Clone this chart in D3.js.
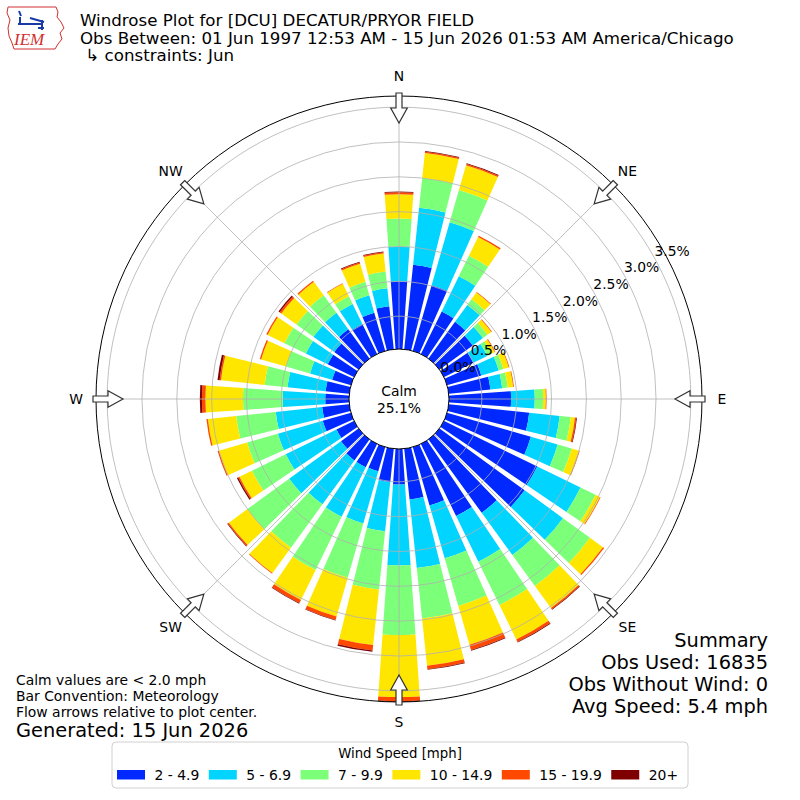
<!DOCTYPE html>
<html>
<head>
<meta charset="utf-8">
<script src="https://cdn.jsdelivr.net/npm/d3@7"></script>
<style>
  body { margin: 0; background: #fff; }
  text { font-family: "DejaVu Sans", sans-serif; fill: #000; }
</style>
</head>
<body>
<svg id="chart" width="800" height="800"></svg>
<script>
// direction bins (deg, meteorological: where the wind comes from)
var directions = [0,10,20,30,40,50,60,70,80,90,100,110,120,130,140,150,160,170,
                  180,190,200,210,220,230,240,250,260,270,280,290,300,310,320,330,340,350];
var speedBins = ["2 - 4.9", "5 - 6.9", "7 - 9.9", "10 - 14.9", "15 - 19.9", "20+"];
var binColors = ["#0028ff", "#00d4ff", "#7cff79", "#ffe600", "#ff4800", "#7f0000"];

// percent of obs per direction, one array per speed bin
var pct_2_4   = [1.00,1.25,1.01,0.71,0.68,0.62,0.50,0.54,0.63,0.92,1.19,1.28,1.52,1.54,1.33,1.18,0.90,0.76,
                 0.54,0.51,0.39,0.40,0.40,0.34,0.31,0.45,0.42,0.37,0.37,0.31,0.45,0.46,0.55,0.51,0.60,0.65];
var pct_5_6   = [0.50,0.82,0.94,0.56,0.30,0.18,0.22,0.26,0.17,0.34,0.44,0.40,0.69,0.68,0.75,0.73,0.79,0.99,
                 1.16,0.71,0.78,0.79,0.78,0.92,0.81,0.67,0.67,0.61,0.55,0.33,0.35,0.37,0.29,0.32,0.26,0.26];
var pct_7_9   = [0.40,0.43,0.48,0.33,0.10,0.08,0.07,0.07,0.08,0.12,0.16,0.21,0.24,0.48,0.55,0.69,0.71,0.73,
                 1.00,0.84,0.81,0.85,0.77,0.74,0.54,0.46,0.57,0.57,0.33,0.36,0.34,0.30,0.31,0.12,0.20,0.24];
var pct_10_14 = [0.35,0.36,0.37,0.30,0.12,0.07,0.05,0.08,0.08,0.04,0.06,0.11,0.07,0.23,0.39,0.55,0.58,0.68,
                 0.89,0.80,0.58,0.48,0.45,0.33,0.20,0.42,0.41,0.54,0.63,0.37,0.27,0.27,0.24,0.20,0.27,0.26];
var pct_15_19 = [0.03,0.02,0.02,0.02,0.01,0.01,0.01,0.01,0.01,0.01,0.02,0.01,0.01,0.02,0.02,0.04,0.08,0.05,
                 0.06,0.08,0.05,0.05,0.01,0.02,0.02,0.02,0.02,0.05,0.02,0.02,0.02,0.03,0.02,0.01,0.02,0.02];
var pct_20p   = [0.01,0.01,0.01,0.00,0.00,0.00,0.00,0.00,0.00,0.00,0.01,0.00,0.00,0.00,0.01,0.01,0.01,0.01,
                 0.01,0.02,0.01,0.01,0.00,0.01,0.02,0.00,0.00,0.03,0.03,0.00,0.00,0.02,0.00,0.00,0.01,0.01];
var series = [pct_2_4, pct_5_6, pct_7_9, pct_10_14, pct_15_19, pct_20p];

var ringTicks = [0.0, 0.5, 1.0, 1.5, 2.0, 2.5, 3.0, 3.5];
var compass = ["N","NE","E","SE","S","SW","W","NW"];
var compassDeg = [0,45,90,135,180,225,270,315];

var titleLines = ["Windrose Plot for [DCU] DECATUR/PRYOR FIELD",
                  "Obs Between: 01 Jun 1997 12:53 AM - 15 Jun 2026 01:53 AM America/Chicago",
                  " \u21b3 constraints: Jun"];
var summaryLines = ["Summary", "Obs Used: 16835", "Obs Without Wind: 0", "Avg Speed: 5.4 mph"];
var noteLines = ["Calm values are < 2.0 mph", "Bar Convention: Meteorology", "Flow arrows relative to plot center."];
var calmPct = "25.1%";

var svg = d3.select('#chart');
var cx = 399, cy = 399, R = 303, r0 = 48, calmR = 50;
var rad = Math.PI / 180;
var small = '13.9px', big = '19.4px';

// stack the bins
var stacked = directions.map(function(d, i){
  var acc = 0;
  return series.map(function(s, j){
    var lo = acc; acc += s[i];
    return {dir: d, bin: j, lo: lo, hi: acc};
  });
});
var totals = stacked.map(function(s){ return s[s.length-1].hi; });

var r = d3.scaleLinear().domain([0, d3.max(totals)]).range([r0, R]);

var g = svg.append('g').attr('transform', 'translate(' + cx + ',' + cy + ')');

var arc = d3.arc()
  .innerRadius(function(d){ return r(d.lo); })
  .outerRadius(function(d){ return r(d.hi); })
  .startAngle(function(d){ return (d.dir - 4) * rad; })
  .endAngle(function(d){ return (d.dir + 4) * rad; });

g.selectAll('g.dir')
  .data(stacked)
  .enter().append('g').attr('class', 'dir')
  .selectAll('path')
  .data(function(d){ return d.filter(function(e){ return e.hi > e.lo; }); })
  .enter().append('path')
    .attr('d', arc)
    .attr('fill', function(d){ return binColors[d.bin]; });

// grid over the bars
g.selectAll('circle.ring')
  .data(ringTicks)
  .enter().append('circle')
    .attr('r', function(d){ return r(d); })
    .attr('fill', 'none')
    .attr('stroke', '#b0b0b0')
    .attr('stroke-width', 0.8);

g.selectAll('line.spoke')
  .data(compassDeg)
  .enter().append('line')
    .attr('x1', 0).attr('y1', 0)
    .attr('x2', function(d){ return R * Math.sin(d * rad); })
    .attr('y2', function(d){ return -R * Math.cos(d * rad); })
    .attr('stroke', '#b0b0b0')
    .attr('stroke-width', 0.8);

g.append('circle')
  .attr('r', R).attr('fill', 'none').attr('stroke', '#000').attr('stroke-width', 1);

// calm circle
g.append('circle')
  .attr('r', calmR).attr('fill', '#fff').attr('stroke', '#000').attr('stroke-width', 1);
g.append('text').attr('x', 0).attr('y', -3).attr('text-anchor', 'middle')
  .style('font-size', small).text('Calm');
g.append('text').attr('x', 0).attr('y', 14).attr('text-anchor', 'middle')
  .style('font-size', small).text(calmPct);

// radial labels
var labAng = 61.5 * rad;
g.selectAll('text.rlab')
  .data(ringTicks)
  .enter().append('text')
    .attr('x', function(d){ return (r(d) + 19) * Math.sin(labAng); })
    .attr('y', function(d){ return -(r(d) + 19) * Math.cos(labAng) + 5; })
    .attr('text-anchor', 'middle')
    .style('font-size', small)
    .text(function(d){ return d.toFixed(1) + '%'; });

// compass labels
g.selectAll('text.cmp')
  .data(compass)
  .enter().append('text')
    .attr('x', function(d, i){ return 323 * Math.sin(compassDeg[i] * rad); })
    .attr('y', function(d, i){ return -323 * Math.cos(compassDeg[i] * rad) + 5; })
    .attr('text-anchor', 'middle')
    .style('font-size', small)
    .text(function(d){ return d; });

// flow arrows pointing at the center
var arrowShape = [[306,-3],[291,-3],[291,-8.3],[276,0],[291,8.3],[291,3],[306,3]];
g.selectAll('path.arrow')
  .data(compassDeg)
  .enter().append('path')
    .attr('d', function(a){
      var s = Math.sin(a * rad), c = Math.cos(a * rad);
      return 'M' + arrowShape.map(function(p){
        return [(p[0] * s + p[1] * c).toFixed(2), (-p[0] * c + p[1] * s).toFixed(2)].join(',');
      }).join('L') + 'Z';
    })
    .attr('fill', '#fff')
    .attr('stroke', '#333')
    .attr('stroke-width', 1.2);

// titles
svg.selectAll('text.title')
  .data(titleLines)
  .enter().append('text')
    .attr('x', 80)
    .attr('y', function(d, i){ return 26 + i * 17.5; })
    .attr('xml:space', 'preserve')
    .style('font-size', '16.67px')
    .text(function(d){ return d; });

// summary block
svg.selectAll('text.summary')
  .data(summaryLines)
  .enter().append('text')
    .attr('x', 768)
    .attr('y', function(d, i){ return 647 + i * 22; })
    .attr('text-anchor', 'end')
    .style('font-size', big)
    .text(function(d){ return d; });

svg.selectAll('text.note')
  .data(noteLines)
  .enter().append('text')
    .attr('x', 16)
    .attr('y', function(d, i){ return 685 + i * 16; })
    .style('font-size', small)
    .text(function(d){ return d; });
svg.append('text').attr('x', 16).attr('y', 737)
  .style('font-size', big).text('Generated: 15 Jun 2026');

// legend
var lg = svg.append('g');
lg.append('rect').attr('x', 112).attr('y', 742).attr('width', 576).attr('height', 46)
  .attr('rx', 4).attr('fill', '#fff').attr('stroke', '#d0d0d0');
lg.append('text').attr('x', 400).attr('y', 758).attr('text-anchor', 'middle')
  .style('font-size', '13.3px').text('Wind Speed [mph]');
var lx = 117;
speedBins.forEach(function(lbl, i){
  lg.append('rect').attr('x', lx).attr('y', 770).attr('width', 28).attr('height', 9.5)
    .attr('fill', binColors[i]);
  var t = lg.append('text').attr('x', lx + 37.5).attr('y', 779.5)
    .style('font-size', small).text(lbl);
  lx = lx + 37.5 + t.node().getComputedTextLength() + 9.5;
});

// IEM logo (rough)
var logo = svg.append('g');
logo.append('path')
  .attr('d', 'M8,7 L56,7 L58,12 L57,17 L61,22 L64,28 L60,33 L62,39 L58,44 L55,49 L14,49 L12,43 L9,36 L8,28 L10,20 L7,13 Z')
  .attr('fill', '#fff').attr('stroke', '#d03030').attr('stroke-width', 1);
logo.append('path')
  .attr('d', 'M19,11 L21,16 M20,17 L20,23 M18,24 L42,24 M42,20 L42,30 M30,18 L44,22 M38,28 L44,28')
  .attr('fill', 'none').attr('stroke', '#1a3aa8').attr('stroke-width', 2);
logo.append('text').attr('x', 14).attr('y', 45)
  .style('font-family', '"Liberation Serif", serif').style('font-style', 'italic')
  .style('font-size', '17px').style('fill', '#d03030').text('IEM');
</script>
</body>
</html>
